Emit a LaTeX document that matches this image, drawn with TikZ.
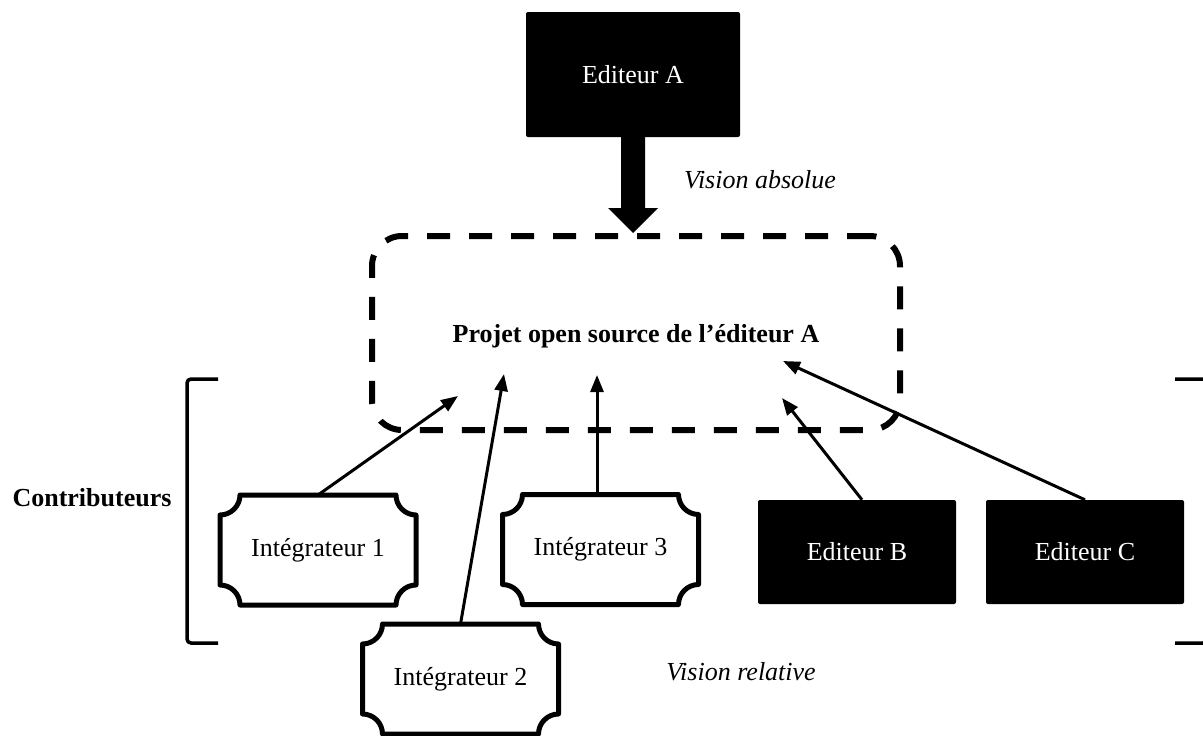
\documentclass[tikz,border=0pt]{standalone}
\usepackage{fontspec}
\setmainfont{Liberation Serif}
\usetikzlibrary{arrows.meta}

\newcommand{\bigfont}{\fontsize{26}{30}\selectfont}

% outline with hollow corners round a node
\newcommand{\plaque}[1]{%
\draw[plaqueline] ([yshift=-20pt]#1.north west)
  .. controls ([xshift=11pt,yshift=-20pt]#1.north west) and ([xshift=20pt,yshift=-11pt]#1.north west) .. ([xshift=20pt]#1.north west)
  -- ([xshift=-20pt]#1.north east)
  .. controls ([xshift=-20pt,yshift=-11pt]#1.north east) and ([xshift=-11pt,yshift=-20pt]#1.north east) .. ([yshift=-20pt]#1.north east)
  -- ([yshift=20pt]#1.south east)
  .. controls ([xshift=-11pt,yshift=20pt]#1.south east) and ([xshift=-20pt,yshift=11pt]#1.south east) .. ([xshift=-20pt]#1.south east)
  -- ([xshift=20pt]#1.south west)
  .. controls ([xshift=20pt,yshift=11pt]#1.south west) and ([xshift=11pt,yshift=20pt]#1.south west) .. ([yshift=20pt]#1.south west)
  -- cycle;}

\begin{document}
\begin{tikzpicture}[x=1pt,y=-1pt]

\tikzstyle{editeur}=[rectangle, fill=black, text=white, rounded corners=2pt, minimum width=198pt, minimum height=104pt, font=\bigfont]
\tikzstyle{integrateur}=[rectangle, minimum width=196pt, minimum height=110pt, outer sep=0pt, font=\bigfont]
\tikzstyle{plaqueline}=[line width=5pt, line join=round]
\tikzstyle{projetbox}=[rectangle, draw, dash pattern=on 23pt off 19pt, line width=6pt, rounded corners=30pt, minimum width=528pt, minimum height=194pt, text depth=0pt, font=\bigfont\bfseries]
\tikzstyle{connect}=[-{Triangle[length=17pt,width=13pt]}, line width=3pt]
\tikzstyle{bracket}=[line width=3.5pt, rounded corners=4pt]

\useasboundingbox (0,0) rectangle (1203,736);


\node[editeur, minimum width=214pt, minimum height=125pt] (edA) at (633,74.5) {Editeur A};
\node[projetbox] (projet) at (636,333) {Projet open source de l’éditeur A};
\node[anchor=base, font=\bigfont\itshape] (vabs) at (760,188) {Vision absolue};

\coordinate (tipA) at (edA.south |- projet.north);
\fill ([xshift=-12pt]edA.south) -- ([xshift=-12pt,yshift=25pt]tipA) -- ([xshift=-25pt,yshift=25pt]tipA)
  -- (tipA) -- ([xshift=25pt,yshift=25pt]tipA) -- ([xshift=12pt,yshift=25pt]tipA) -- ([xshift=12pt]edA.south) -- cycle;


\node[integrateur] (int1) at (318,550) {Intégrateur 1};
\node[integrateur] (int2) at (460.5,679) {Intégrateur 2};
\node[integrateur] (int3) at (600.5,549.5) {Intégrateur 3};
\plaque{int1}
\plaque{int2}
\plaque{int3}

\node[editeur] (edB) at (857,552) {Editeur B};
\node[editeur] (edC) at (1085,552) {Editeur C};


\coordinate (c1) at (458,396);
\coordinate (c2) at (504,374);
\coordinate (c3) at (597,375);
\coordinate (cB) at (782,398);
\coordinate (cC) at (783,361);

\draw[connect] (int1.north) -- (c1);
\draw[connect] (int2.north) -- (c2);
\draw[connect] (int3.north -| c3) -- (c3);
\draw[connect] ([xshift=5pt]edB.north) -- (cB);
\draw[connect] (edC.north) -- (cC);


%contributeurs
\draw[bracket] (218,379) -- (187,379) -- (187,643) -- (218,643);
\draw[bracket] (1175,379) -- (1207,379) -- (1207,643) -- (1175,643);
\node[anchor=base, font=\bigfont\bfseries] (contrib) at (92,506) {Contributeurs};

\node[anchor=base, font=\bigfont\itshape] (vrel) at (741,680) {Vision relative};

\end{tikzpicture}
\end{document}
